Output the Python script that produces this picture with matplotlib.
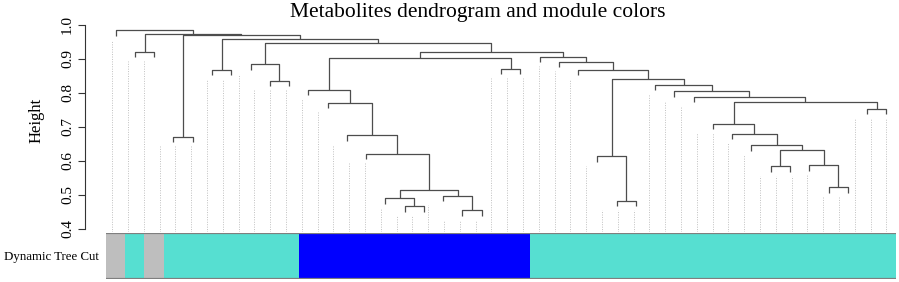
import numpy as np
import matplotlib
matplotlib.use("Agg")
import matplotlib.pyplot as plt
from matplotlib.colors import to_rgb

plt.rcParams['font.family'] = ['Liberation Serif', 'DejaVu Serif']

# hclust-style merge table (R convention: negative = leaf, positive = earlier merge row)
merge_left = [-19, -16, -27, -15, -18, 4, -38, -35, -37, -26,
              -14, 8, -34, -4, -13, -33, -32, -40, -12, 17,
              -31, -30, -11, -29, -9, 10, -6, -21, -25, -8,
              -24, 23, -23, -2, 32, 30, 27, 14, 34, -1]
merge_right = [-20, -17, -28, 2, 1, 5, -39, -36, 7, 3,
               6, 9, 12, -5, 11, 13, 16, -41, 15, 18,
               20, 21, 19, 22, -10, 24, -7, -22, 26, 25,
               29, 28, 31, -3, 33, 35, 36, 37, 38, 39]
merge_height = [0.454, 0.466, 0.482, 0.489, 0.497, 0.513, 0.522, 0.583, 0.586, 0.613,
                0.620, 0.630, 0.645, 0.670, 0.674, 0.679, 0.709, 0.752, 0.770, 0.774,
                0.788, 0.804, 0.809, 0.824, 0.835, 0.839, 0.868, 0.870, 0.868, 0.884,
                0.891, 0.901, 0.905, 0.920, 0.920, 0.945, 0.959, 0.971, 0.974, 0.984]

# module colour of each leaf, in dendrogram order
module_colors = ['grey', 'turquoise', 'grey',
                 'turquoise', 'turquoise', 'turquoise', 'turquoise', 'turquoise', 'turquoise', 'turquoise',
                 'blue', 'blue', 'blue', 'blue', 'blue', 'blue', 'blue', 'blue', 'blue', 'blue', 'blue', 'blue',
                 'turquoise', 'turquoise', 'turquoise', 'turquoise', 'turquoise', 'turquoise', 'turquoise',
                 'turquoise', 'turquoise', 'turquoise', 'turquoise', 'turquoise', 'turquoise', 'turquoise',
                 'turquoise', 'turquoise', 'turquoise', 'turquoise', 'turquoise']

yticks = [0.4, 0.5, 0.6, 0.7, 0.8, 0.9, 1.0]

palette = {'grey': '#BEBEBE', 'turquoise': '#56DFD1', 'blue': '#0000FF'}
line_col = '#4d4d4d'

n = len(module_colors)
hang = 0.03 * (max(merge_height) - min(merge_height))
ylim = (0.39, 1.005)
guide_hang = 0.045 * (ylim[1] - ylim[0])

W, H = 899, 282
def box(x0, y0, x1, y1):
    return [x0 / W, 1 - y1 / H, (x1 - x0) / W, (y1 - y0) / H]

fig = plt.figure(figsize=(W / 100, H / 100), dpi=100)
ax = fig.add_axes(box(106, 23, 896, 232))
ax2 = fig.add_axes(box(106, 232.5, 896, 279))

# node x positions / heights
node_x = {}
node_h = {}
def child_pos(c, h):
    if c < 0:
        return -c, h - hang
    return node_x[c], node_h[c]

leaf_join = np.zeros(n + 1)
for i, (a, b, h) in enumerate(zip(merge_left, merge_right, merge_height), start=1):
    xa, ya = child_pos(a, h)
    xb, yb = child_pos(b, h)
    ax.plot([xa, xa, xb, xb], [ya, h, h, yb], color=line_col, lw=0.9, solid_capstyle='butt')
    node_x[i] = (xa + xb) / 2
    node_h[i] = h
    for c in (a, b):
        if c < 0:
            leaf_join[-c] = h

# guide lines (same recipe as WGCNA addGuideLines, incl. its recycling quirk)
count = 50
pos = np.arange(1, count + 1) * n / count
obj = np.maximum(leaf_join - guide_hang, ylim[0])
fl = [obj[int(np.floor(p))] for p in pos if np.floor(p) >= 1]
ce = [obj[int(np.ceil(p))] for p in pos]
for k in range(count):
    top = min(fl[k % len(fl)], ce[k])
    ax.plot([pos[k], pos[k]], [ylim[0], top], color='#c0c0c0', lw=0.7, ls=(0, (1, 1.5)), zorder=0)

ax.set_xlim(0.5, n + 0.5)
ax.set_ylim(*ylim)
for s in ['top', 'right', 'bottom']:
    ax.spines[s].set_visible(False)
ax.spines['left'].set_position(('outward', 15))
ax.spines['left'].set_bounds(0.4, 1.0)
ax.spines['left'].set_color('#333333')
ax.set_xticks([])
ax.set_yticks(yticks)
ax.set_yticklabels(['%.1f' % t for t in yticks], rotation=90, va='center', fontsize=11)
ax.tick_params(axis='y', length=5, width=0.8, color='#333333', pad=3)
ax.patch.set_alpha(0)

# colour bar
rgb = np.array([[to_rgb(palette[c]) for c in module_colors]])
ax2.imshow(rgb, aspect='auto', interpolation='nearest', extent=(0.5, n + 0.5, 0, 1))
ax2.axhline(1, color='#7f7f7f', lw=1.6)
ax2.axhline(0, color='#7f7f7f', lw=1.6)
ax2.set_xlim(0.5, n + 0.5)
ax2.set_ylim(0, 1)
ax2.axis('off')

fig.text(37 / W, 1 - 120 / H, 'Height', rotation=90, ha='center', va='center', fontsize=12)
fig.text(477.5 / W, 1 - 13 / H, 'Metabolites dendrogram and module colors', ha='center', va='center', fontsize=15.5)
fig.text(99 / W, 1 - 257 / H, 'Dynamic Tree Cut', ha='right', va='center', fontsize=9.3)

fig.savefig('out.png', dpi=100)
